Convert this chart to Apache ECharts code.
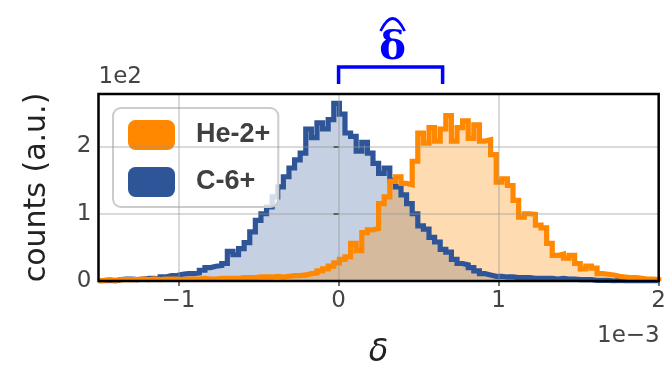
<!DOCTYPE html>
<html>
<head>
<meta charset="utf-8">
<script src="https://cdn.jsdelivr.net/npm/echarts@6/dist/echarts.min.js"></script>
<style>
  html, body { margin: 0; padding: 0; background: #ffffff; }
  #chart { width: 669px; height: 368px; }
</style>
</head>
<body>
<div id="chart"></div>
<script>
// Histogram binning (delta in units of 1e-3)
const binStart = -1.5;
const binWidth = 0.035;

// Counts per bin, He-2+
const heCounts = [
  1, 2, 1, 2, 2, 2, 2, 3, 2, 3,
  2, 3, 3, 3, 2, 3, 3, 3, 4, 3,
  3, 4, 4, 4, 4, 5, 5, 5, 6, 6,
  6, 7, 6, 7, 8, 8, 9, 11, 12, 15,
  18, 22, 27, 32, 36, 56, 45, 72, 76, 78,
  115, 125, 148, 155, 145, 143, 178, 220, 205, 228,
  208, 226, 246, 208, 228, 238, 212, 232, 208, 210,
  188, 147, 152, 142, 120, 95, 100, 99, 83, 79,
  56, 38, 40, 34, 38, 26, 18, 22, 19, 11,
  10, 9, 7, 6, 5, 5, 4, 3, 3, 2
];

// Counts per bin, C-6+
const cCounts = [
  0, 1, 0, 2, 3, 3, 2, 3, 4, 4,
  3, 6, 8, 8, 10, 11, 11, 12, 16, 20,
  22, 23, 26, 44, 39, 48, 57, 73, 90, 100,
  110, 125, 140, 155, 168, 180, 190, 226, 213, 235,
  226, 240, 264, 248, 220, 215, 193, 206, 190, 175,
  160, 168, 150, 140, 128, 115, 100, 82, 77, 65,
  58, 47, 43, 32, 26, 24, 20, 15, 11, 9,
  7, 7, 6, 6, 5, 5, 5, 4, 4, 4,
  4, 3, 4, 3, 3, 2, 2, 2, 1, 1,
  1, 0, 1, 0, 0, 0, 0, 0, 0, 0
];

// Axis ticks
const xTicks = [-1, 0, 1, 2];
const yTicks = [0, 100, 200];
const xRange = [-1.5, 2];
const yRange = [0, 278];

// Span marked by the bracket above the axes
const bracketSpan = [0, 0.65];

const heColor = '#FF8800';
const cColor = '#2E5597';

(function () {
  function stepPoints(counts) {
    const pts = [[binStart, 0]];
    counts.forEach((c, i) => pts.push([binStart + i * binWidth, c]));
    const end = binStart + counts.length * binWidth;
    pts.push([end, counts[counts.length - 1]]);
    pts.push([end, 0]);
    return pts;
  }

  function fmtMinus(v) {
    return String(v).replace('-', '\u2212');
  }

  const chart = echarts.init(document.getElementById('chart'), null, { renderer: 'canvas' });

  const gridLine = { color: 'rgba(150,150,150,0.35)', width: 2, type: 'solid' };

  const option = {
    animation: false,
    backgroundColor: '#ffffff',
    grid: { left: 98.5, top: 94, width: 561, height: 187, containLabel: false },
    xAxis: {
      type: 'value', min: xRange[0], max: xRange[1],
      z: 5,
      axisLine: { show: false },
      splitLine: { show: false },
      axisTick: { show: true, customValues: xTicks, length: 5, lineStyle: { color: '#444', width: 1.5 } },
      axisLabel: {
        customValues: xTicks, margin: 9,
        fontFamily: 'DejaVu Sans', fontSize: 23, color: '#444',
        formatter: v => fmtMinus(v)
      }
    },
    yAxis: {
      type: 'value', min: yRange[0], max: yRange[1],
      z: 5,
      axisLine: { show: false },
      splitLine: { show: false },
      axisTick: { show: true, customValues: yTicks, length: 5, lineStyle: { color: '#444', width: 1.5 } },
      axisLabel: {
        customValues: yTicks, margin: 7,
        fontFamily: 'DejaVu Sans', fontSize: 23, color: '#444',
        formatter: v => String(v / 100)
      }
    },
    legend: {
      orient: 'vertical', left: 113, top: 108,
      padding: [12, 8, 10, 15], itemGap: 17,
      itemWidth: 47, itemHeight: 30, icon: 'roundRect',
      backgroundColor: 'rgba(255,255,255,0.8)',
      borderColor: '#cccccc', borderWidth: 2, borderRadius: 8,
      textStyle: {
        fontFamily: 'Liberation Sans', fontWeight: 'bold', fontSize: 27,
        color: '#404040', padding: [0, 0, 0, 16]
      },
      data: ['He-2+', 'C-6+']
    },
    series: [
      {
        name: 'C-6+ fill', type: 'line', step: 'end', data: stepPoints(cCounts),
        showSymbol: false, silent: true, z: 1,
        lineStyle: { width: 0 },
        areaStyle: { color: 'rgba(46,85,151,0.28)', opacity: 1 }
      },
      {
        name: 'He-2+ fill', type: 'line', step: 'end', data: stepPoints(heCounts),
        showSymbol: false, silent: true, z: 1,
        lineStyle: { width: 0 },
        areaStyle: { color: 'rgba(255,136,0,0.3)', opacity: 1 }
      },
      {
        name: 'grid', type: 'line', data: [], z: 2, silent: true,
        markLine: {
          silent: true, symbol: 'none', animation: false,
          label: { show: false },
          lineStyle: gridLine,
          emphasis: { disabled: true },
          data: [
            ...xTicks.filter(v => v > xRange[0] && v < xRange[1]).map(v => ({ xAxis: v })),
            ...yTicks.filter(v => v > yRange[0]).map(v => ({ yAxis: v }))
          ]
        }
      },
      {
        name: 'C-6+', type: 'line', step: 'end', data: stepPoints(cCounts),
        showSymbol: false, z: 3,
        itemStyle: { color: cColor },
        lineStyle: { color: cColor, width: 5.2, join: 'miter', cap: 'butt' }
      },
      {
        name: 'He-2+', type: 'line', step: 'end', data: stepPoints(heCounts),
        showSymbol: false, z: 3,
        itemStyle: { color: heColor },
        lineStyle: { color: heColor, width: 5.2, join: 'miter', cap: 'butt' }
      }
    ]
  };

  chart.setOption(option);

  // Frame, labels and bracket placed from the grid's pixel geometry
  const p0 = chart.convertToPixel({ gridIndex: 0 }, [xRange[0], yRange[0]]);
  const p1 = chart.convertToPixel({ gridIndex: 0 }, [xRange[1], yRange[1]]);
  const bx0 = chart.convertToPixel({ gridIndex: 0 }, [bracketSpan[0], 0])[0];
  const bx1 = chart.convertToPixel({ gridIndex: 0 }, [bracketSpan[1], 0])[0];
  const gLeft = p0[0], gBottom = p0[1], gRight = p1[0], gTop = p1[1];
  const cx = (gLeft + gRight) / 2, cy = (gTop + gBottom) / 2;
  const bCenter = (bx0 + bx1) / 2 + 2;

  chart.setOption({
    graphic: [
      {
        type: 'rect', z: 100, silent: true,
        shape: { x: gLeft, y: gTop, width: gRight - gLeft, height: gBottom - gTop },
        style: { fill: 'none', stroke: '#000', lineWidth: 2.5 }
      },
      {
        type: 'text', z: 100, silent: true, x: gLeft, y: gTop - 5,
        style: { text: '1e2', font: '23px "DejaVu Sans"', fill: '#444', textAlign: 'left', textVerticalAlign: 'bottom' }
      },
      {
        type: 'text', z: 100, silent: true, x: gRight + 1, y: gBottom + 55,
        style: { text: '1e\u22123', font: '23px "DejaVu Sans"', fill: '#444', textAlign: 'right', textVerticalAlign: 'middle' }
      },
      {
        type: 'text', z: 100, silent: true, x: cx, y: gBottom + 72,
        style: { text: '\u03b4', font: 'italic 32px "DejaVu Sans"', fill: '#222', textAlign: 'center', textVerticalAlign: 'middle' }
      },
      {
        type: 'text', z: 100, silent: true, x: 37, y: cy, rotation: Math.PI / 2,
        style: { text: 'counts (a.u.)', font: '30px "DejaVu Sans"', fill: '#222', textAlign: 'center', textVerticalAlign: 'middle' }
      },
      {
        type: 'polyline', z: 100, silent: true,
        shape: { points: [[bx0, gTop - 10], [bx0, gTop - 27], [bx1, gTop - 27], [bx1, gTop - 10]] },
        style: { stroke: '#0000ff', lineWidth: 3.5, fill: 'none', lineJoin: 'miter' }
      },
      {
        type: 'text', z: 100, silent: true, x: bCenter, y: gTop - 45,
        style: { text: '\u03b4', font: 'bold 40px "DejaVu Serif"', fill: '#0000ff', textAlign: 'center', textVerticalAlign: 'middle' }
      },
      {
        type: 'bezierCurve', z: 100, silent: true,
        shape: {
          x1: bCenter - 12, y1: gTop - 63,
          cpx1: bCenter, cpy1: gTop - 88,
          x2: bCenter + 12, y2: gTop - 63
        },
        style: { stroke: '#0000ff', lineWidth: 2.8, fill: 'none' }
      }
    ]
  });
})();
</script>
</body>
</html>
